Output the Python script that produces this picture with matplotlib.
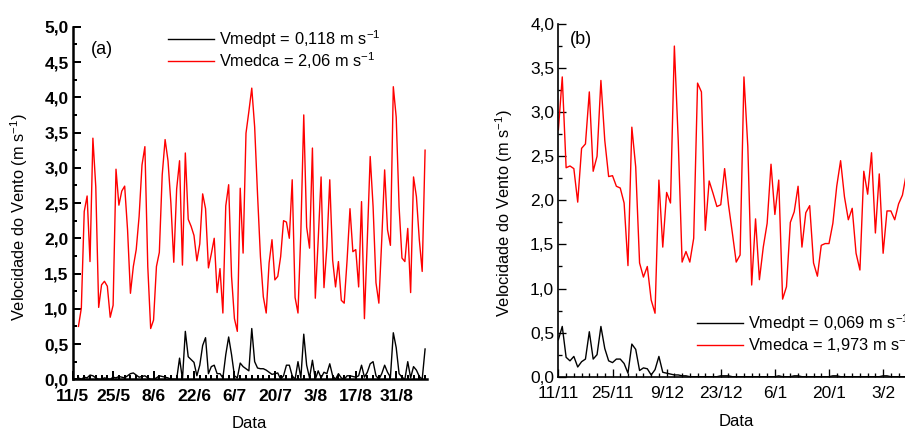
import matplotlib
matplotlib.use("Agg")
import matplotlib.pyplot as plt
import numpy as np
from matplotlib.ticker import MultipleLocator

plt.rcParams['font.family'] = ['Liberation Sans', 'DejaVu Sans']
plt.rcParams['mathtext.fontset'] = 'custom'
plt.rcParams['mathtext.rm'] = 'Liberation Sans'

# (a) daily mean wind speed, days counted from 11/5
a_first_day = 2
a_vmedca = [0.75, 1.01, 2.38, 2.60, 1.67, 3.42, 2.73, 1.02, 1.34, 1.39,
            1.32, 0.88, 1.05, 2.98, 2.47, 2.67, 2.74, 2.12, 1.22, 1.60,
            1.84, 2.31, 3.04, 3.30, 1.60, 0.72, 0.84, 1.60, 1.80, 2.90,
            3.40, 3.10, 2.50, 1.66, 2.70, 3.10, 1.62, 3.21, 2.27, 2.17,
            2.04, 1.68, 1.92, 2.63, 2.42, 1.58, 1.78, 2.00, 1.23, 1.57,
            0.94, 2.46, 2.76, 1.46, 0.86, 0.68, 2.71, 1.79, 3.49, 3.80,
            4.13, 3.58, 2.62, 1.74, 1.17, 0.94, 1.65, 1.98, 1.41, 1.46,
            1.74, 2.25, 2.23, 2.00, 2.83, 1.16, 0.94, 2.10, 3.75, 2.16,
            1.86, 3.28, 1.15, 1.98, 2.87, 1.30, 1.88, 2.83, 1.69, 1.31,
            1.67, 1.12, 1.08, 1.69, 2.42, 1.81, 1.84, 1.31, 2.52, 0.86,
            1.98, 3.16, 2.45, 1.37, 1.08, 1.98, 2.97, 2.12, 1.90, 4.15,
            3.72, 2.45, 1.72, 1.67, 2.14, 1.23, 2.87, 2.59, 1.98, 1.53,
            3.25]
a_vmedpt = [0.02, 0.00, 0.03, 0.02, 0.06, 0.05, 0.02, 0.00, 0.00, 0.02,
            0.01, 0.00, 0.03, 0.02, 0.04, 0.03, 0.02, 0.05, 0.08, 0.09,
            0.06, 0.03, 0.04, 0.05, 0.02, 0.00, 0.00, 0.02, 0.05, 0.04,
            0.03, 0.02, 0.00, 0.00, 0.00, 0.30, 0.00, 0.68, 0.32, 0.28,
            0.24, 0.05, 0.20, 0.48, 0.59, 0.08, 0.18, 0.20, 0.08, 0.08,
            0.02, 0.35, 0.60, 0.35, 0.05, 0.02, 0.23, 0.18, 0.15, 0.12,
            0.72, 0.25, 0.16, 0.15, 0.15, 0.13, 0.10, 0.07, 0.08, 0.09,
            0.00, 0.05, 0.20, 0.20, 0.05, 0.00, 0.25, 0.02, 0.64, 0.20,
            0.02, 0.27, 0.00, 0.12, 0.02, 0.10, 0.08, 0.22, 0.05, 0.00,
            0.08, 0.02, 0.00, 0.05, 0.05, 0.04, 0.03, 0.05, 0.20, 0.03,
            0.10, 0.22, 0.25, 0.05, 0.00, 0.08, 0.20, 0.10, 0.03, 0.66,
            0.45, 0.08, 0.03, 0.00, 0.25, 0.02, 0.18, 0.13, 0.04, 0.00,
            0.43]
a_ticklabels = ['11/5', '25/5', '8/6', '22/6', '6/7', '20/7', '3/8', '17/8', '31/8']

# (b) days counted from 11/11
b_first_day = 0
b_vmedca = [2.80, 3.40, 2.37, 2.39, 2.36, 1.98, 2.59, 2.64, 3.23, 2.33,
            2.50, 3.36, 2.68, 2.27, 2.28, 2.16, 2.14, 1.97, 1.26, 2.83,
            2.38, 1.29, 1.13, 1.25, 0.87, 0.72, 2.23, 1.47, 2.09, 1.97,
            3.75, 2.68, 1.30, 1.42, 1.30, 1.57, 3.33, 3.23, 1.66, 2.22,
            2.08, 1.93, 1.95, 2.36, 1.95, 1.63, 1.30, 1.38, 3.40, 2.61,
            1.04, 1.79, 1.10, 1.47, 1.74, 2.41, 1.84, 2.23, 0.88, 1.02,
            1.75, 1.87, 2.16, 1.47, 1.86, 1.94, 1.29, 1.14, 1.49, 1.51,
            1.51, 1.74, 2.16, 2.45, 2.04, 1.78, 1.91, 1.40, 1.21, 2.33,
            2.07, 2.54, 1.63, 2.30, 1.40, 1.88, 1.88, 1.78, 1.96, 2.06,
            2.30]
b_vmedpt = [0.42, 0.57, 0.22, 0.18, 0.23, 0.11, 0.17, 0.20, 0.51, 0.20,
            0.25, 0.57, 0.32, 0.18, 0.16, 0.20, 0.20, 0.15, 0.04, 0.37,
            0.31, 0.07, 0.10, 0.09, 0.02, 0.08, 0.23, 0.05, 0.04, 0.03,
            0.02, 0.02, 0.01, 0.01, 0.00, 0.00, 0.00, 0.00, 0.00, 0.00,
            0.00, 0.00, 0.01, 0.01, 0.01, 0.00, 0.00, 0.00, 0.00, 0.00,
            0.00, 0.00, 0.00, 0.00, 0.00, 0.00, 0.00, 0.01, 0.00, 0.00,
            0.00, 0.01, 0.01, 0.00, 0.00, 0.00, 0.00, 0.00, 0.00, 0.00,
            0.00, 0.01, 0.01, 0.00, 0.00, 0.00, 0.00, 0.00, 0.00, 0.00,
            0.00, 0.00, 0.00, 0.00, 0.01, 0.01, 0.00, 0.00, 0.00, 0.00,
            0.00]
b_ticklabels = ['11/11', '25/11', '9/12', '23/12', '6/1', '20/1', '3/2']

ylabel = 'Velocidade do Vento (m s$^{\\mathregular{-1}}$)'

fig = plt.figure(figsize=(9.05, 4.32), dpi=100)
ax1 = fig.add_axes([0.0803, 0.122, 0.391, 0.816])
ax2 = fig.add_axes([0.617, 0.128, 0.393, 0.8164])


def style_axes(ax, ticklabels, ymax, lw, weight):
    for s in ('top', 'right'):
        ax.spines[s].set_visible(False)
    for s in ('left', 'bottom'):
        ax.spines[s].set_linewidth(lw)
    ax.set_xticks(np.arange(len(ticklabels)) * 14)
    ax.set_xticklabels(ticklabels, fontsize=12.5, fontweight=weight)
    ax.xaxis.set_minor_locator(MultipleLocator(2))
    ax.set_ylim(0, ymax)
    ax.yaxis.set_major_locator(MultipleLocator(0.5))
    ax.yaxis.set_minor_locator(MultipleLocator(0.25))
    ax.yaxis.set_major_formatter(lambda v, p: f'{v:.1f}'.replace('.', ','))
    ax.tick_params(which='both', direction='in', width=lw * 0.8, labelsize=12.5)
    ax.tick_params(axis='y', pad=3)
    ax.tick_params(axis='x', pad=7)
    ax.tick_params(which='major', length=6)
    ax.tick_params(which='minor', length=3)
    ax.set_ylabel(ylabel, fontsize=11.8)
    ax.set_xlabel('Data', fontsize=12)


# panel (a)
days_a = np.arange(len(a_vmedca)) + a_first_day
ax1.plot(days_a, a_vmedpt, color='black', lw=1.0, label='Vmedpt = 0,118 m s$^{\\mathregular{-1}}$')
ax1.plot(days_a, a_vmedca, color='red', lw=1.0, label='Vmedca = 2,06 m s$^{\\mathregular{-1}}$')
ax1.set_xlim(0, 122.5)
style_axes(ax1, a_ticklabels, 5.0, 1.8, 'bold')
for lab in ax1.get_yticklabels():
    lab.set_fontweight('bold')
ax1.yaxis.set_label_coords(-0.12, 0.46)
ax1.xaxis.set_label_coords(0.5, -0.105)
ax1.text(0.083, 0.935, '(a)', transform=ax1.transAxes, fontsize=13, ha='center', va='center')
ax1.legend(loc='upper left', bbox_to_anchor=(168 / 905, 1 - 28 / 432), bbox_transform=fig.transFigure,
           frameon=False, fontsize=11.8, handlelength=2.8, handletextpad=0.3,
           labelspacing=0.05, borderpad=0, borderaxespad=0)

# panel (b)
days_b = np.arange(len(b_vmedca)) + b_first_day
ax2.plot(days_b, b_vmedpt, color='black', lw=1.0, label='Vmedpt = 0,069 m s$^{\\mathregular{-1}}$')
ax2.plot(days_b, b_vmedca, color='red', lw=1.0, label='Vmedca = 1,973 m s$^{\\mathregular{-1}}$')
ax2.set_xlim(0, 92)
style_axes(ax2, b_ticklabels, 4.0, 1.2, 'normal')
ax2.yaxis.set_label_coords(-0.122, 0.463)
ax2.xaxis.set_label_coords(0.5, -0.105)
ax2.text(0.063, 0.955, '(b)', transform=ax2.transAxes, fontsize=13, ha='center', va='center')
ax2.legend(loc='upper left', bbox_to_anchor=(697 / 905, 1 - 312 / 432), bbox_transform=fig.transFigure,
           frameon=False, fontsize=11.8, handlelength=2.8, handletextpad=0.3,
           labelspacing=0.05, borderpad=0, borderaxespad=0)

fig.savefig('out.png', dpi=100)
